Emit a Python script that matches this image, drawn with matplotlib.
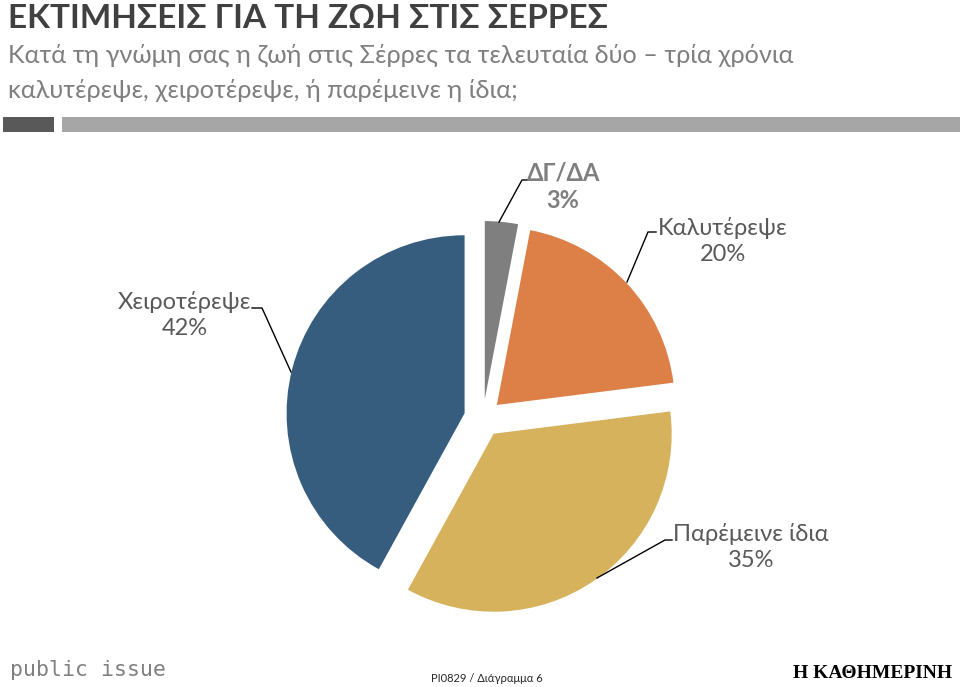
import matplotlib
matplotlib.use('Agg')
import matplotlib.pyplot as plt
from matplotlib.patches import Rectangle

categories = ['Χειροτέρεψε', 'Παρέμεινε ίδια', 'Καλυτέρεψε', 'ΔΓ/ΔΑ']
values = [42, 35, 20, 3]
colors = ['#365d7e', '#d6b25d', '#dc8047', '#7f7f7f']

title = 'ΕΚΤΙΜΗΣΕΙΣ ΓΙΑ ΤΗ ΖΩΗ ΣΤΙΣ ΣΕΡΡΕΣ'
subtitle = ['Κατά τη γνώμη σας η ζωή στις Σέρρες τα τελευταία δύο – τρία χρόνια',
            'καλυτέρεψε, χειροτέρεψε, ή παρέμεινε η ίδια;']

W, H = 960, 687
fig = plt.figure(figsize=(9.6, 6.87), dpi=100)
ax = fig.add_axes([0, 0, 1, 1])

fams = ['Lato', 'DejaVu Sans']

# pie drawn in pixel coords (y up); explode is in data units here
ax.pie(values, colors=colors, startangle=90, counterclock=True,
       explode=[19, 19, 19, 19], center=(483, H - 418), radius=178,
       wedgeprops=dict(linewidth=0))
ax.set_xlim(0, W)
ax.set_ylim(0, H)
ax.set_aspect('auto')
ax.axis('off')


def Y(y):
    return H - y


# header
ax.text(8, Y(18), title, fontsize=24, fontweight='bold', color='#404040',
        family=fams, va='center', ha='left')
ax.text(8, Y(55), subtitle[0], fontsize=18.2, color='#7f7f7f', family=fams, va='center')
ax.text(8, Y(90), subtitle[1], fontsize=18.2, color='#7f7f7f', family=fams, va='center')
ax.add_patch(Rectangle((3, Y(132)), 51, 15, color='#595959', lw=0))
ax.add_patch(Rectangle((62, Y(132)), 898, 15, color='#a6a6a6', lw=0))

# labels with leader lines
labels = [
    ('Χειροτέρεψε\n42%', (185, 315), [(291, 372), (262, 308), (252, 308)], '#595959'),
    ('Παρέμεινε ίδια\n35%', (751, 547), [(597, 578), (665, 540), (672, 540)], '#595959'),
    ('Καλυτέρεψε\n20%', (723, 241), [(627, 282), (648, 232), (656, 232)], '#595959'),
    ('ΔΓ/ΔΑ\n3%', (563, 187), [(499, 222), (522, 180), (530, 180)], '#7f7f7f'),
]
for (txt, pos, line, col), cat in zip(labels, categories):
    xs = [p[0] for p in line]
    ys = [Y(p[1]) for p in line]
    ax.plot(xs, ys, color='black', lw=1)
    ax.text(pos[0], Y(pos[1]), txt, ha='center', va='center', fontsize=17,
            color=col, family=fams, linespacing=1.25,
            fontweight='bold' if cat == 'ΔΓ/ΔΑ' else 'normal')

# footer
ax.text(10, Y(670), 'public issue', fontsize=15.5, color='#808080',
        family=['DejaVu Sans Mono'], va='center')
ax.text(487, Y(678), 'PI0829 / Διάγραμμα 6', fontsize=8, color='#262626',
        family=fams, va='center', ha='center')
ax.text(952, Y(673), 'Η ΚΑΘΗΜΕΡΙΝΗ', fontsize=14, color='black', fontweight='bold',
        family=['Liberation Serif', 'DejaVu Serif'], va='center', ha='right')

fig.savefig('out.png', dpi=100, facecolor='white')
